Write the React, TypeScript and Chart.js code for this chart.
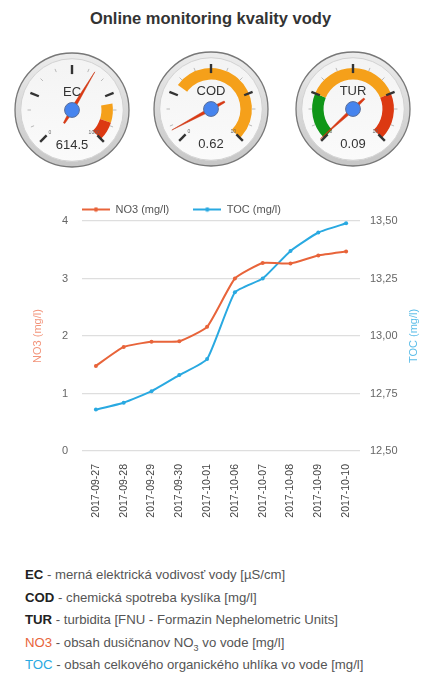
import React, { useEffect, useRef } from 'react';
import { Chart, registerables } from 'chart.js';
Chart.register(...registerables);

// ---------- data ----------
const dates = [
  '2017-09-27', '2017-09-28', '2017-09-29', '2017-09-30', '2017-10-01',
  '2017-10-06', '2017-10-07', '2017-10-08', '2017-10-09', '2017-10-10',
];
const no3Values = [1.48, 1.81, 1.9, 1.91, 2.16, 3.0, 3.27, 3.26, 3.4, 3.47];
const tocValues = [12.68, 12.71, 12.76, 12.83, 12.9, 13.19, 13.25, 13.37, 13.45, 13.49];
const tocTickLabels = ['12,50', '12,75', '13,00', '13,25', '13,50'];

const gaugeLabels = ['EC', 'COD', 'TUR'];
const gaugeValues = [614.5, 0.62, 0.09];
const gaugeValueTexts = ['614.5', '0.62', '0.09'];
const gaugeMins = [0, 0, 0];
const gaugeMaxs = [1000, 10, 10];
const ecBands = [
  { from: 800, to: 900, color: '#f5a01a' },
  { from: 900, to: 1000, color: '#dc3912' },
];
const codBands = [{ from: 3, to: 10, color: '#f5a01a' }];
const turBands = [
  { from: 0, to: 2.5, color: '#109618' },
  { from: 2.5, to: 7.5, color: '#f5a01a' },
  { from: 7.5, to: 10, color: '#dc3912' },
];
const gaugeBands = [ecBands, codBands, turBands];

const NO3_COLOR = '#e8643a';
const TOC_COLOR = '#29a9e1';
const FONT = '"Liberation Sans", Arial, sans-serif';

// ---------- gauge ----------
const G = 124; // canvas size
const R = 57; // bezel radius

const gaugePlugin = {
  id: 'gaugeFace',
  beforeDatasetsDraw(chart: any) {
    const ctx = chart.ctx;
    const cx = (chart.chartArea.left + chart.chartArea.right) / 2;
    const cy = (chart.chartArea.top + chart.chartArea.bottom) / 2;
    ctx.save();
    ctx.beginPath();
    ctx.arc(cx, cy, R, 0, Math.PI * 2);
    const g = ctx.createLinearGradient(cx, cy - R, cx, cy + R);
    g.addColorStop(0, '#ececec');
    g.addColorStop(1, '#c6c6c6');
    ctx.fillStyle = g;
    ctx.fill();
    ctx.lineWidth = 1.3;
    ctx.strokeStyle = '#777';
    ctx.stroke();
    ctx.beginPath();
    ctx.arc(cx, cy, R * 0.9, 0, Math.PI * 2);
    const g2 = ctx.createLinearGradient(cx, cy - R, cx, cy + R);
    g2.addColorStop(0, '#f3f3f3');
    g2.addColorStop(1, '#fbfbfb');
    ctx.fillStyle = g2;
    ctx.fill();
    ctx.lineWidth = 1;
    ctx.strokeStyle = '#d2d2d2';
    ctx.stroke();
    ctx.restore();
  },
  afterDatasetsDraw(chart: any, _a: any, o: any) {
    const ctx = chart.ctx;
    const cx = (chart.chartArea.left + chart.chartArea.right) / 2;
    const cy = (chart.chartArea.top + chart.chartArea.bottom) / 2;
    const ang = (v: number) => ((-135 + ((v - o.min) / (o.max - o.min)) * 270 - 90) * Math.PI) / 180;
    ctx.save();
    const majors = 5;
    const minors = 2;
    for (let i = 0; i < majors; i++) {
      const v = o.min + ((o.max - o.min) * i) / (majors - 1);
      const a = ang(v);
      ctx.beginPath();
      ctx.moveTo(cx + Math.cos(a) * R * 0.63, cy + Math.sin(a) * R * 0.63);
      ctx.lineTo(cx + Math.cos(a) * R * 0.79, cy + Math.sin(a) * R * 0.79);
      ctx.lineWidth = 2.4;
      ctx.strokeStyle = '#333';
      ctx.stroke();
      if (i < majors - 1) {
        for (let j = 1; j <= minors; j++) {
          const vm = v + ((o.max - o.min) / (majors - 1)) * (j / (minors + 1));
          const am = ang(vm);
          ctx.beginPath();
          ctx.moveTo(cx + Math.cos(am) * R * 0.72, cy + Math.sin(am) * R * 0.72);
          ctx.lineTo(cx + Math.cos(am) * R * 0.78, cy + Math.sin(am) * R * 0.78);
          ctx.lineWidth = 0.8;
          ctx.strokeStyle = '#aaa';
          ctx.stroke();
        }
      }
    }
    ctx.fillStyle = '#666';
    ctx.font = '5px ' + FONT;
    ctx.textAlign = 'center';
    ctx.textBaseline = 'middle';
    const amin = ang(o.min);
    const amax = ang(o.max);
    ctx.fillText(String(o.min), cx + Math.cos(amin) * R * 0.55, cy + Math.sin(amin) * R * 0.55);
    ctx.fillText(String(o.max), cx + Math.cos(amax) * R * 0.55, cy + Math.sin(amax) * R * 0.55);
    ctx.fillStyle = '#333';
    ctx.font = '13px ' + FONT;
    ctx.fillText(o.label, cx, cy - R * 0.3);
    ctx.fillText(o.valueText, cx, cy + R * 0.63);
    // needle
    const a = ang(o.value);
    const ux = Math.cos(a);
    const uy = Math.sin(a);
    const px = -uy;
    const py = ux;
    const tip = R * 0.78;
    const tail = R * 0.27;
    const hw = 1.8;
    ctx.beginPath();
    ctx.moveTo(cx + ux * tip, cy + uy * tip);
    ctx.lineTo(cx + px * hw, cy + py * hw);
    ctx.lineTo(cx - ux * tail + px * 0.8, cy - uy * tail + py * 0.8);
    ctx.lineTo(cx - ux * tail - px * 0.8, cy - uy * tail - py * 0.8);
    ctx.lineTo(cx - px * hw, cy - py * hw);
    ctx.closePath();
    ctx.fillStyle = '#dc3912';
    ctx.fill();
    ctx.lineWidth = 0.5;
    ctx.strokeStyle = '#c63310';
    ctx.stroke();
    // knob
    ctx.beginPath();
    ctx.arc(cx, cy, R * 0.13, 0, Math.PI * 2);
    ctx.fillStyle = '#4684ee';
    ctx.fill();
    ctx.lineWidth = 1;
    ctx.strokeStyle = '#5a6f9a';
    ctx.stroke();
    ctx.restore();
  },
};

function bandSegments(min: number, max: number, bands: { from: number; to: number; color: string }[]) {
  const data: number[] = [];
  const colors: string[] = [];
  let cur = min;
  bands.forEach((b) => {
    if (b.from > cur) {
      data.push(b.from - cur);
      colors.push('rgba(0,0,0,0)');
    }
    data.push(b.to - b.from);
    colors.push(b.color);
    cur = b.to;
  });
  if (cur < max) {
    data.push(max - cur);
    colors.push('rgba(0,0,0,0)');
  }
  data.push((max - min) / 3);
  colors.push('rgba(0,0,0,0)');
  return { data, colors };
}

function Gauge({ idx, left, top }: { idx: number; left: number; top: number }) {
  const ref = useRef<HTMLCanvasElement>(null);
  useEffect(() => {
    if (!ref.current) return;
    const min = gaugeMins[idx];
    const max = gaugeMaxs[idx];
    const { data, colors } = bandSegments(min, max, gaugeBands[idx]);
    const chart = new Chart(ref.current, {
      type: 'doughnut',
      data: {
        labels: data.map((_, i) => String(i)),
        datasets: [{ data, backgroundColor: colors, borderWidth: 0 }],
      },
      options: {
        responsive: false,
        animation: false,
        events: [],
        rotation: -135,
        circumference: 360,
        radius: '66%',
        cutout: '72%',
        layout: { padding: 0 },
        plugins: {
          legend: { display: false },
          tooltip: { enabled: false },
          gaugeFace: {
            label: gaugeLabels[idx],
            value: gaugeValues[idx],
            valueText: gaugeValueTexts[idx],
            min,
            max,
          },
        } as any,
      },
      plugins: [gaugePlugin],
    });
    return () => chart.destroy();
  }, [idx]);
  return (
    <canvas
      ref={ref}
      width={G}
      height={G}
      style={{ position: 'absolute', left, top, width: G, height: G }}
    />
  );
}

// ---------- line chart ----------
function legendMarker(color: string) {
  const c = document.createElement('canvas');
  c.width = 28;
  c.height = 6;
  const x = c.getContext('2d')!;
  x.strokeStyle = color;
  x.lineWidth = 2;
  x.beginPath();
  x.moveTo(0, 3);
  x.lineTo(28, 3);
  x.stroke();
  x.fillStyle = color;
  x.beginPath();
  x.arc(14, 3, 2.2, 0, Math.PI * 2);
  x.fill();
  return c;
}

const LEGEND_PAD = 24;

const layoutTweaks = {
  id: 'layoutTweaks',
  beforeInit(chart: any) {
    const lg = chart.legend;
    if (lg) {
      const origFit = lg.fit;
      lg.fit = function () {
        origFit.call(this);
        this.height -= 4 + (LEGEND_PAD - 8);
      };
      const origDraw = lg.draw;
      lg.draw = function () {
        const saved = { left: this.left, top: this.top };
        this.left -= LEGEND_PAD;
        this.top -= LEGEND_PAD - 8;
        origDraw.call(this);
        this.left = saved.left;
        this.top = saved.top;
      };
    }
  },
  afterDraw(chart: any) {
    const ctx = chart.ctx;
    const ca = chart.chartArea;
    ctx.save();
    ctx.translate(414, (ca.top + ca.bottom) / 2);
    ctx.rotate(-Math.PI / 2);
    ctx.fillStyle = '#5cbde8';
    ctx.font = '11px ' + FONT;
    ctx.textAlign = 'center';
    ctx.textBaseline = 'middle';
    ctx.fillText('TOC (mg/l)', 0, 0);
    ctx.restore();
  },
};

function LineChart() {
  const ref = useRef<HTMLCanvasElement>(null);
  useEffect(() => {
    if (!ref.current) return;
    const font = { family: FONT, size: 11 };
    const markers = [legendMarker(NO3_COLOR), legendMarker(TOC_COLOR)];
    const chart = new Chart(ref.current, {
      type: 'line',
      data: {
        labels: dates,
        datasets: [
          {
            label: 'NO3 (mg/l)',
            data: no3Values,
            borderColor: NO3_COLOR,
            backgroundColor: NO3_COLOR,
            borderWidth: 2,
            pointRadius: 2,
            pointBorderWidth: 0,
            tension: 0.15,
            yAxisID: 'y',
          },
          {
            label: 'TOC (mg/l)',
            data: tocValues,
            borderColor: TOC_COLOR,
            backgroundColor: TOC_COLOR,
            borderWidth: 2,
            pointRadius: 2,
            pointBorderWidth: 0,
            tension: 0.15,
            yAxisID: 'y1',
          },
        ],
      },
      options: {
        responsive: false,
        animation: false,
        events: [],
        layout: { padding: 0 },
        plugins: {
          tooltip: { enabled: false },
          legend: {
            position: 'top',
            align: 'start',
            fullSize: false,
            labels: {
              usePointStyle: true,
              pointStyleWidth: 28,
              padding: LEGEND_PAD,
              color: '#555',
              font,
              generateLabels: (ch: any) => {
                const items = Chart.defaults.plugins.legend.labels.generateLabels(ch);
                return items.map((it: any, i: number) => ({ ...it, pointStyle: markers[i] }));
              },
            },
          },
        },
        scales: {
          x: {
            offset: true,
            grid: { display: false, drawTicks: false },
            border: { display: false },
            ticks: {
              minRotation: 90,
              maxRotation: 90,
              padding: 13,
              color: '#444',
              font: { family: FONT, size: 10.5 },
              autoSkip: false,
            },
            afterFit: (s: any) => {
              s.height = 90;
            },
          },
          y: {
            position: 'left',
            min: 0,
            max: 4,
            ticks: { stepSize: 1, padding: 14, color: '#666', font },
            grid: { color: '#dedede', lineWidth: 1.3, drawTicks: false },
            border: { display: false },
            title: {
              display: true,
              text: 'NO3 (mg/l)',
              color: '#f29379',
              font,
              padding: { top: 31, bottom: 0 },
            },
            afterFit: (s: any) => {
              s.width = 82;
            },
          },
          y1: {
            position: 'right',
            min: 12.5,
            max: 13.5,
            ticks: {
              stepSize: 0.25,
              padding: 10,
              color: '#666',
              font,
              callback: (_v: any, i: number) => tocTickLabels[i],
            },
            grid: { display: false, drawTicks: false },
            border: { display: false },
            afterFit: (s: any) => {
              s.width = 61;
            },
          },
        },
      } as any,
      plugins: [layoutTweaks],
    });
    return () => chart.destroy();
  }, []);
  return (
    <canvas
      ref={ref}
      width={421}
      height={345}
      style={{ position: 'absolute', left: 0, top: 196, width: 421, height: 345 }}
    />
  );
}

// ---------- notes ----------
const noteStyle: React.CSSProperties = {
  fontFamily: FONT,
  fontSize: 13.2,
  color: '#555',
  lineHeight: '22.5px',
  whiteSpace: 'nowrap',
};

export default function App() {
  return (
    <div
      style={{
        position: 'absolute',
        left: 0,
        top: 0,
        width: 421,
        height: 684,
        background: '#fff',
        overflow: 'hidden',
      }}
    >
      <div
        style={{
          position: 'absolute',
          left: 0,
          top: 8,
          width: 421,
          textAlign: 'center',
          fontFamily: FONT,
          fontWeight: 'bold',
          fontSize: 16.5,
          lineHeight: '20px',
          color: '#333',
        }}
      >
        Online monitoring kvality vody
      </div>
      <Gauge idx={0} left={72 - G / 2} top={110 - G / 2} />
      <Gauge idx={1} left={211 - G / 2} top={109 - G / 2} />
      <Gauge idx={2} left={353 - G / 2} top={109 - G / 2} />
      <LineChart />
      <div style={{ position: 'absolute', left: 25, top: 564, ...noteStyle }}>
        <div>
          <b style={{ color: '#222' }}>EC</b> - merná elektrická vodivosť vody [µS/cm]
        </div>
        <div>
          <b style={{ color: '#222' }}>COD</b> - chemická spotreba kyslíka [mg/l]
        </div>
        <div>
          <b style={{ color: '#222' }}>TUR</b> - turbidita [FNU - Formazin Nephelometric Units]
        </div>
        <div>
          <span style={{ color: NO3_COLOR }}>NO3</span> - obsah dusičnanov NO
          <sub style={{ fontSize: 9, lineHeight: 0 }}>3</sub> vo vode [mg/l]
        </div>
        <div>
          <span style={{ color: TOC_COLOR }}>TOC</span> - obsah celkového organického uhlíka vo vode [mg/l]
        </div>
      </div>
    </div>
  );
}
